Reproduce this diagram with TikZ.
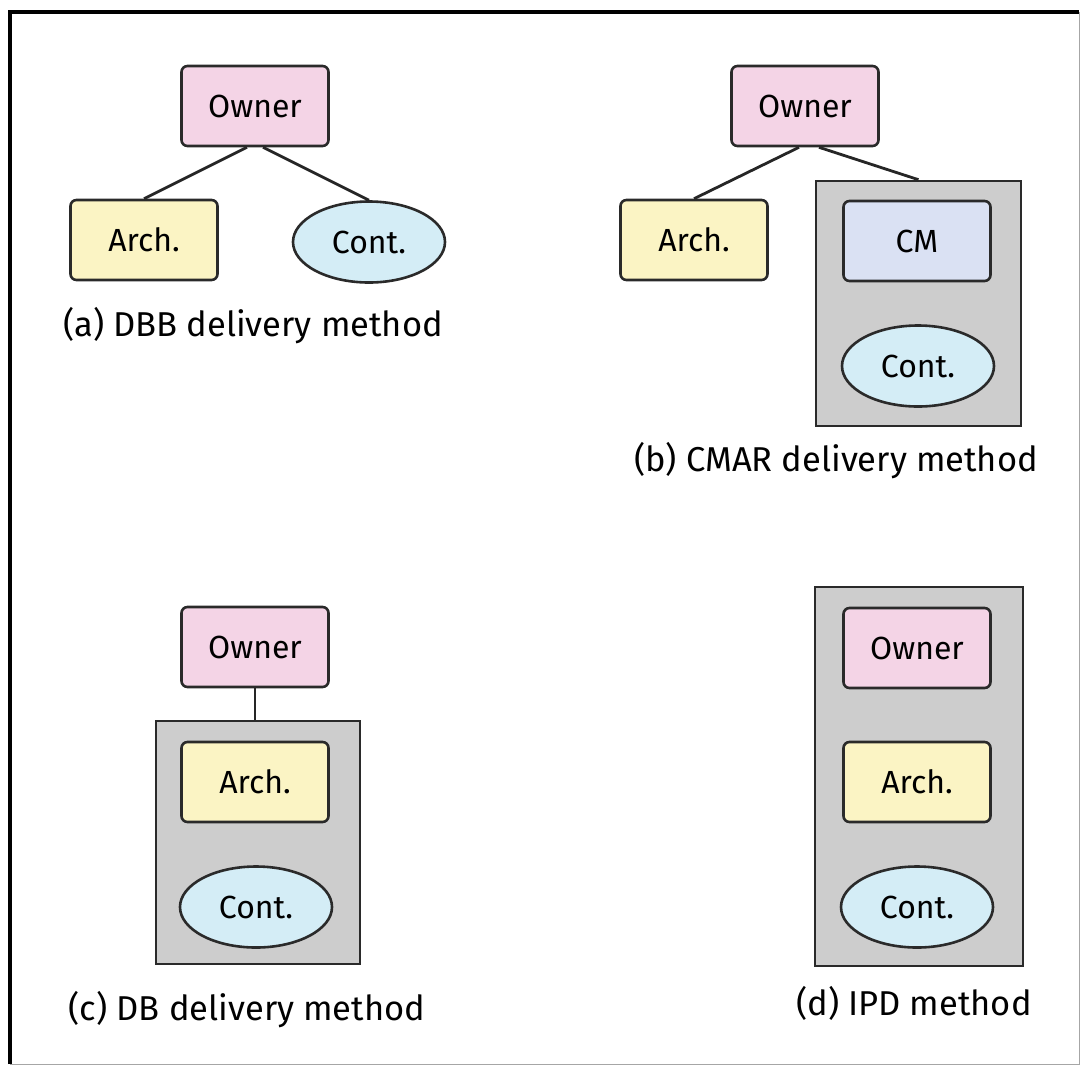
\documentclass[tikz,border=0pt]{standalone}
\usepackage{fontspec}
\setmainfont{Fira Sans}
\usetikzlibrary{shapes.geometric}

\definecolor{ownerpink}{HTML}{F4D4E6}
\definecolor{archyellow}{HTML}{FBF4C4}
\definecolor{contblue}{HTML}{D4EDF6}
\definecolor{cmblue}{HTML}{DAE1F3}
\definecolor{groupgray}{HTML}{CDCDCD}
\definecolor{edgegray}{HTML}{2A2A2A}

\tikzset{
  party/.style={draw=edgegray, line width=2.6pt, rounded corners=6pt,
    minimum width=147pt, minimum height=80pt, inner sep=0pt,
    font=\fontsize{32}{38}\selectfont},
  ownerbox/.style={party, fill=ownerpink},
  archbox/.style={party, fill=archyellow},
  cmbox/.style={party, fill=cmblue},
  contoval/.style={ellipse, draw=edgegray, line width=2.6pt, fill=contblue,
    minimum width=152pt, minimum height=81pt, inner sep=0pt,
    font=\fontsize{32}{38}\selectfont},
  groupbox/.style={draw=edgegray, line width=2.6pt, fill=groupgray, inner sep=0pt},
  caption/.style={font=\fontsize{34.5}{40}\selectfont},
  link/.style={draw=black!85, line width=2.8pt},
}

\begin{document}
\begin{tikzpicture}[x=1pt, y=-1pt]
      \useasboundingbox (0,0) rectangle (1081,1066);

      % Outer frame
      \draw[line width=3.5pt] (10,1064) -- (10,12) -- (1079,12);
      \draw[black!35, line width=1pt] (1079,12) -- (1079,1064) -- (10,1064);

      % (a) DBB
      \node[ownerbox] (aown) at (255,106) {Owner};
      \node[archbox] (aarch) at (144,240) {Arch.};
      \node[contoval] (acont) at (369,242) {Cont.};
      \draw[link] ([xshift=-8pt]aown.south) -- (aarch.north);
      \draw[link] ([xshift=8pt]aown.south) -- (acont.north);
      \node[caption] (acap) at (253,326) {(a) DBB delivery method};

      % (b) CMAR
      \node[groupbox, minimum width=205pt, minimum height=245pt] (bgrp) at (918.5,303.5) {};
      \node[ownerbox] (bown) at (805,106) {Owner};
      \node[archbox] (barch) at (694,240) {Arch.};
      \node[cmbox] (bcm) at (917,241) {CM};
      \node[contoval] (bcont) at (918,366) {Cont.};
      \draw[link] ([xshift=-6pt]bown.south) -- (barch.north);
      \draw[link] ([xshift=14pt]bown.south) -- (bgrp.north);
      \node[caption] (bcap) at (836,461) {(b) CMAR delivery method};

      % (c) DB
      \node[groupbox, minimum width=204pt, minimum height=243pt] (cgrp) at (258,842.5) {};
      \node[ownerbox] (cown) at (255,647) {Owner};
      \node[archbox] (carch) at (255,782) {Arch.};
      \node[contoval] (ccont) at (256,907) {Cont.};
      \draw[link] (cown.south) -- (cown.south |- cgrp.north);
      \node[caption] (ccap) at (247,1010) {(c) DB delivery method};

      % (d) IPD -- everyone in one box
      \node[groupbox, minimum width=208pt, minimum height=379pt] (dgrp) at (919,776.5) {};
      \node[ownerbox] (down) at (917,648) {Owner};
      \node[archbox] (darch) at (917,782) {Arch.};
      \node[contoval] (dcont) at (917,907) {Cont.};
      \node[caption] (dcap) at (914,1003) {(d) IPD method};

    \end{tikzpicture}
\end{document}
